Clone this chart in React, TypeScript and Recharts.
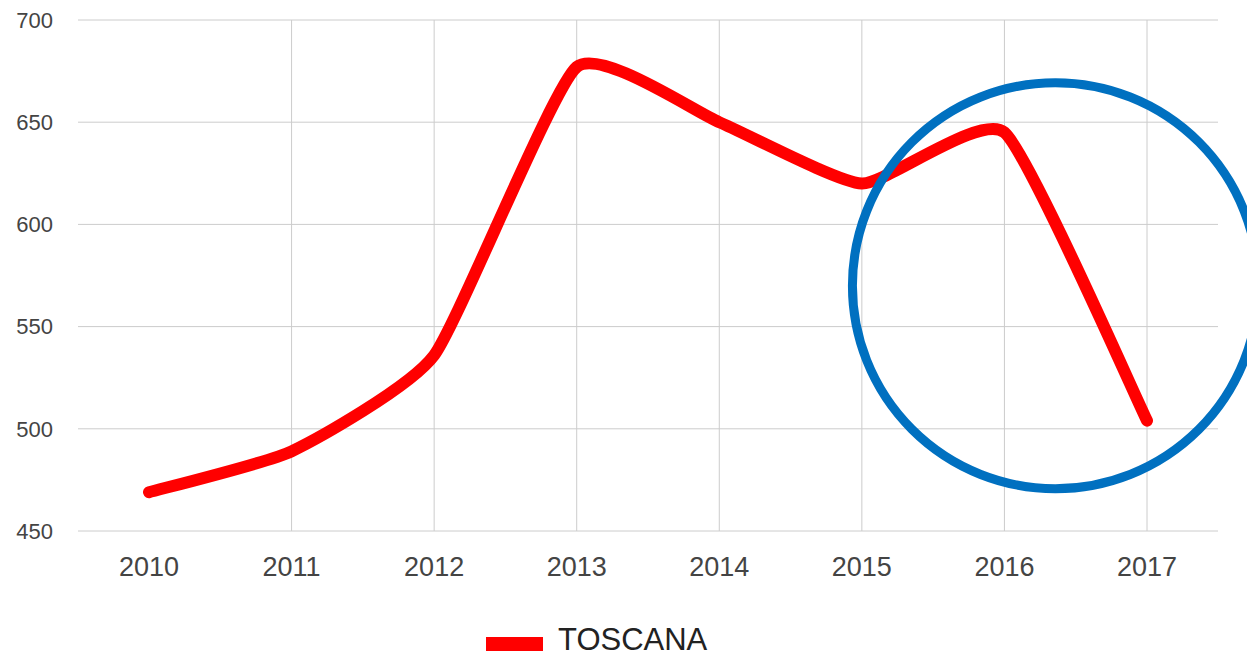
import { LineChart, Line, XAxis, YAxis, CartesianGrid, Legend, ReferenceDot, ReferenceLine } from "recharts";

const years = ["2010", "2011", "2012", "2013", "2014", "2015", "2016", "2017"];
const toscana = [469, 489, 536, 677, 650, 620, 645, 504];
const yTicks = [450, 500, 550, 600, 650, 700];

const data = years.map((year, i) => ({ year, TOSCANA: toscana[i] }));

const font = '"Liberation Sans", Arial, sans-serif';

// cardinal spline with some tension: mostly straight runs, rounded corners
const cardinal = (tension: number) => {
  const k = (1 - tension) / 6;
  return (ctx: any) => {
    let pts: number[][] = [];
    return {
      areaStart() {},
      areaEnd() {},
      lineStart() {
        pts = [];
      },
      point(x: number, y: number) {
        pts.push([+x, +y]);
      },
      lineEnd() {
        if (!pts.length) return;
        ctx.moveTo(pts[0][0], pts[0][1]);
        for (let i = 0; i < pts.length - 1; i++) {
          const p0 = pts[i - 1] || pts[i];
          const p1 = pts[i];
          const p2 = pts[i + 1];
          const p3 = pts[i + 2] || p2;
          ctx.bezierCurveTo(
            p1[0] + k * (p2[0] - p0[0]),
            p1[1] + k * (p2[1] - p0[1]),
            p2[0] - k * (p3[0] - p1[0]),
            p2[1] - k * (p3[1] - p1[1]),
            p2[0],
            p2[1]
          );
        }
      },
    };
  };
};

// blue highlight ring around the 2016-2017 drop
const Ring = (props: any) => (
  <circle cx={props.cx + 51} cy={props.cy} r={203} fill="none" stroke="#0070c0" strokeWidth={9} />
);

const LegendBox = () => (
  <div style={{ display: "flex", alignItems: "center", paddingLeft: 486, fontFamily: font, height: 28 }}>
    <div style={{ width: 57, height: 14, background: "#ff0000", marginTop: 8 }} />
    <span style={{ marginLeft: 15, fontSize: 31, color: "#222", lineHeight: "28px" }}>TOSCANA</span>
  </div>
);

export default function App() {
  return (
    <div style={{ position: "fixed", left: 0, top: 0, width: 1247, height: 654, background: "#fff", overflow: "hidden" }}>
      <LineChart width={1247} height={654} data={data} margin={{ top: 20, right: 29, left: 0, bottom: 35 }}>
        <CartesianGrid stroke="#cccccc" vertical={false} />
        {/* vertical grid only at the category points, not at the plot edges */}
        {years.map((y) => (
          <ReferenceLine key={y} x={y} stroke="#cccccc" />
        ))}
        <XAxis
          dataKey="year"
          padding={{ left: 71, right: 71 }}
          axisLine={false}
          tickLine={false}
          tickSize={0}
          tickMargin={26}
          height={60}
          tick={{ fontSize: 27, fill: "#444", fontFamily: font }}
        />
        <YAxis
          domain={[450, 700]}
          ticks={yTicks}
          width={78}
          axisLine={false}
          tickLine={false}
          tickSize={0}
          tickMargin={25}
          tick={{ fontSize: 22, fill: "#444", fontFamily: font }}
        />
        <Legend verticalAlign="bottom" height={28} content={<LegendBox />} wrapperStyle={{ top: 626, left: 0, width: 1247 }} />
        <Line
          type={cardinal(0.5) as any}
          dataKey="TOSCANA"
          stroke="#ff0000"
          strokeWidth={12}
          strokeLinecap="round"
          strokeLinejoin="round"
          dot={false}
          isAnimationActive={false}
        />
        <ReferenceDot x="2016" y={570} shape={Ring} />
      </LineChart>
    </div>
  );
}
